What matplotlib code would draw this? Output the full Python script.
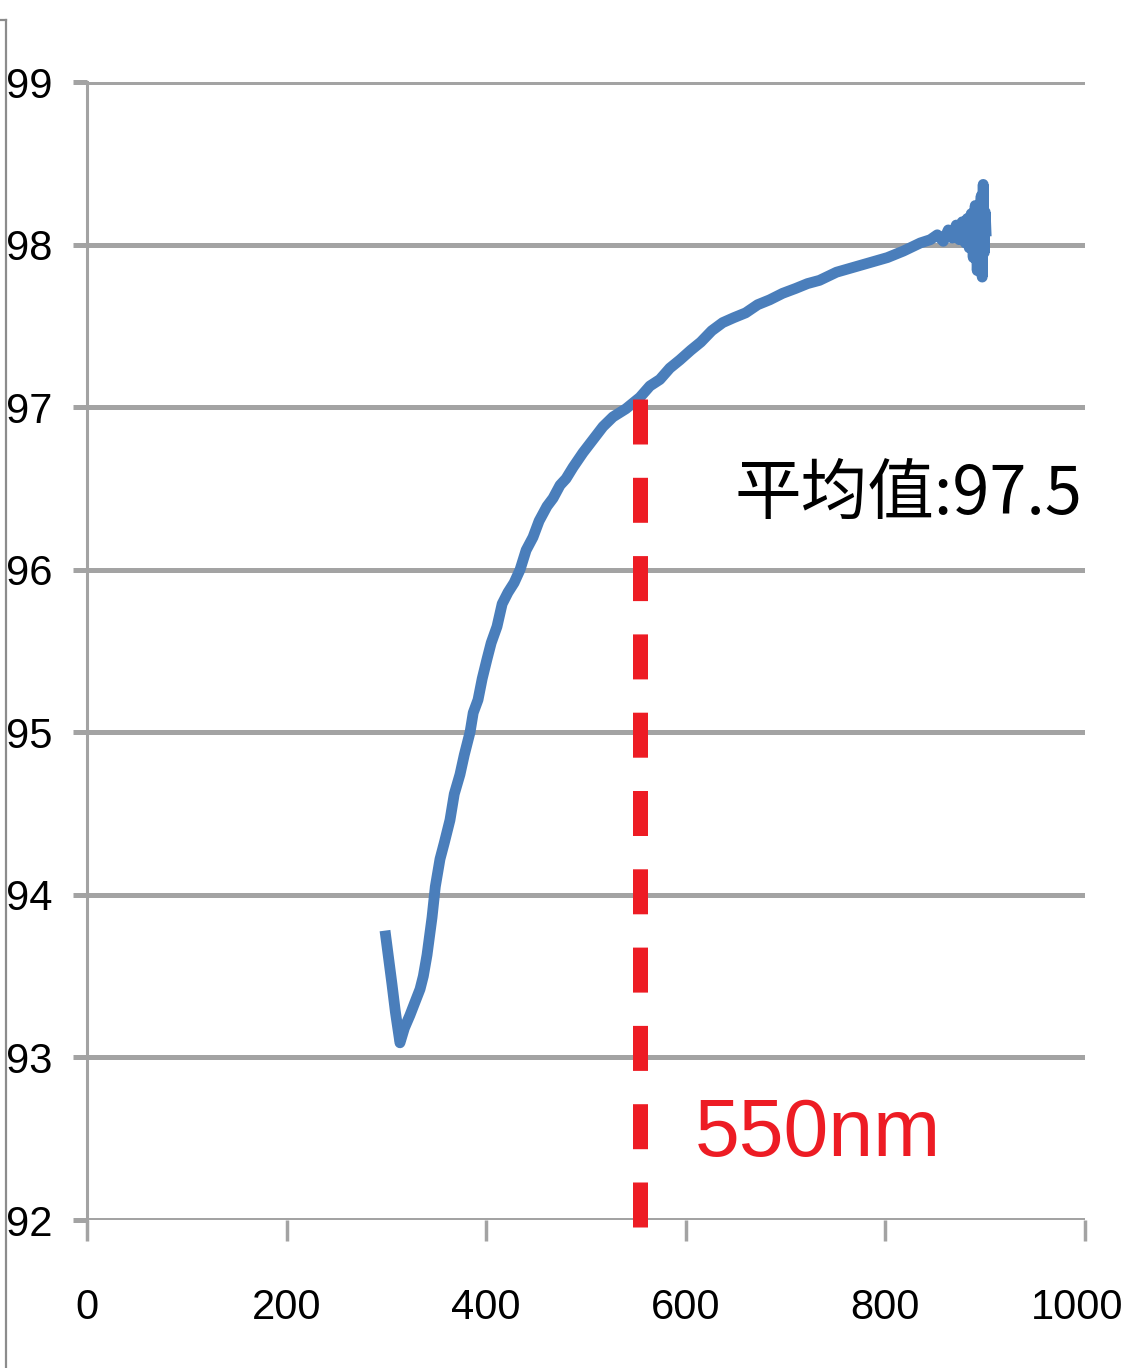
import matplotlib.pyplot as plt
from matplotlib.lines import Line2D
from matplotlib.transforms import ScaledTranslation

# transmittance curve (wavelength nm, %)
wavelength = [298.6, 302, 305.6, 309, 313.6, 318, 323.6, 328, 333.7, 337,
              340.7, 345.7, 349, 353.7, 358, 363.7, 368, 373.7, 378, 383.8,
              387, 391.8, 396, 400.8, 405, 410.8, 416, 421.8, 428, 433.9,
              440, 446.9, 453, 460.9, 467, 474, 480, 487, 497, 507,
              517, 527, 540, 554, 564, 574, 584, 594, 605, 615,
              626, 637, 648, 660, 672, 684, 697, 710, 722, 734,
              751, 768, 785, 802, 818, 835, 845, 852, 858, 863,
              867, 871, 874, 877, 880, 882, 884, 886, 888, 890,
              892, 894, 896, 897, 898, 899, 900, 901]
transmit = [93.78, 93.62, 93.45, 93.28, 93.09, 93.18, 93.26, 93.33, 93.42, 93.50,
            93.63, 93.86, 94.05, 94.22, 94.32, 94.46, 94.62, 94.74, 94.86, 95.00,
            95.12, 95.20, 95.33, 95.45, 95.55, 95.65, 95.79, 95.86, 95.92, 96.00,
            96.12, 96.20, 96.30, 96.39, 96.44, 96.52, 96.56, 96.63, 96.72, 96.80,
            96.88, 96.94, 96.99, 97.06, 97.13, 97.17, 97.24, 97.29, 97.35, 97.40,
            97.47, 97.52, 97.55, 97.58, 97.63, 97.66, 97.70, 97.73, 97.76, 97.78,
            97.83, 97.86, 97.89, 97.92, 97.96, 98.01, 98.03, 98.06, 98.02, 98.09,
            98.04, 98.12, 98.03, 98.14, 98.01, 98.16, 97.98, 98.19, 97.92, 98.24,
            97.84, 98.12, 98.30, 97.80, 98.37, 97.95, 98.20, 98.05]

marker_x = 554
marker_top = 97.05
marker_bottom = 91.95
avg_label = '平均值:97.5'
marker_label = '550nm'

xticks = [0, 200, 400, 600, 800, 1000]
yticks = [92, 93, 94, 95, 96, 97, 98, 99]

sans = ['Liberation Sans', 'DejaVu Sans']
grid_col = '#a3a3a3'
px = 72 / 100  # points per pixel

fig = plt.figure(figsize=(11.24, 13.68), dpi=100)
ax = fig.add_axes([87/1124, 1 - 1220/1368, (1085 - 87)/1124, (1220 - 82)/1368])

for y in yticks:
    ax.axhline(y, color=grid_col, lw=3.6, zorder=1)

ax.plot(wavelength, transmit, color='#4a7ebb', lw=7.8, zorder=3,
        solid_joinstyle='round', solid_capstyle='butt')

# dashed marker: white blocks hide the grid in the gaps, red dashes on top
dash, gap = 45, 33.3
red_w, white_w = 15, 23
ax.plot([marker_x, marker_x], [marker_top, marker_bottom], color='white', lw=white_w * px,
        linestyle=(gap / white_w, (gap / white_w, dash / white_w)),
        dash_capstyle='butt', zorder=2, clip_on=False)
ax.plot([marker_x, marker_x], [marker_top, marker_bottom], color='#ed1c24', lw=red_w * px,
        linestyle=(0, (dash / red_w, gap / red_w)), dash_capstyle='butt',
        zorder=4, clip_on=False)

ax.text(649, 96.46, avg_label, fontsize=48, color='black', ha='left', va='center',
        family=['Noto Sans CJK SC', 'DejaVu Sans'], zorder=5)
ax.text(609, 92.52, marker_label, fontsize=58, color='#ed1c24', ha='left', va='center',
        family=sans, zorder=5)

ax.set_xlim(0, 1000)
ax.set_ylim(92, 99)
ax.set_xticks(xticks)
ax.set_yticks(yticks)
ax.set_xticklabels([str(v) for v in xticks], family=sans, fontsize=30)
ax.set_yticklabels([str(v) for v in yticks], family=sans, fontsize=30)

for s in ['top', 'right', 'bottom']:
    ax.spines[s].set_visible(False)
ax.spines['left'].set_color(grid_col)
ax.spines['left'].set_linewidth(2.2)

ax.tick_params(axis='y', length=10, width=3.6, color=grid_col, pad=15)
ax.tick_params(axis='x', length=15, width=2.5, color=grid_col, pad=34)

# keep the last x label inside the picture
last = ax.get_xticklabels()[-1]
last.set_transform(last.get_transform() + ScaledTranslation(-0.08, 0, fig.dpi_scale_trans))

# box edge at the far left of the picture
fig.add_artist(Line2D([6/1124, 6/1124], [0, 1 - 20/1368], transform=fig.transFigure,
                      color='#8c8c8c', lw=1.6))
fig.add_artist(Line2D([0, 6/1124], [1 - 20/1368, 1 - 20/1368], transform=fig.transFigure,
                      color='#8c8c8c', lw=1.6))

fig.savefig('out.png', dpi=100)
